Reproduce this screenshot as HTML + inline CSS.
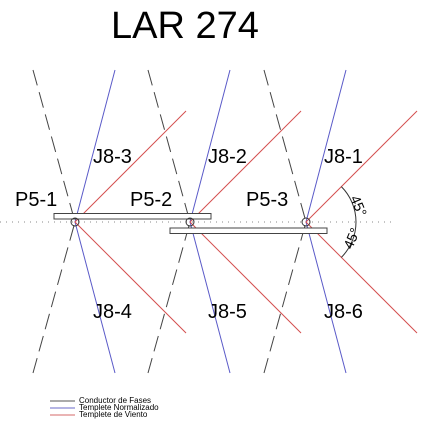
<!DOCTYPE html>
<html><head><meta charset="utf-8"><style>
html,body{margin:0;padding:0;background:#fff;}
svg{display:block;font-family:"Liberation Sans",Arial,sans-serif;}
</style></head><body>
<svg id="c" width="429" height="433" viewBox="0 0 429 433">
<text x="185" y="38" font-size="38" text-anchor="middle">LAR 274</text>
<line x1="0" y1="222" x2="395" y2="222" stroke="#888" stroke-width="1" stroke-dasharray="1,5"/>
<g id="marks"></g>
<g font-size="8">
<line x1="50" y1="401" x2="75" y2="401" stroke="#555"/>
<text x="79" y="403">Conductor de Fases</text>
<line x1="50" y1="408" x2="75" y2="408" stroke="#6a6ac8"/>
<text x="79" y="410">Templete Normalizado</text>
<line x1="50" y1="415" x2="75" y2="415" stroke="#d46a6a"/>
<text x="79" y="417">Templete de Viento</text>
</g>
</svg>
<script>
const poles = ["P5-1","P5-2","P5-3"];
const poleX = [75,190,306];
const upperLabels = ["J8-3","J8-2","J8-1"];
const lowerLabels = ["J8-4","J8-5","J8-6"];
const windAngle = [45,45,45];
const NS="http://www.w3.org/2000/svg";
const g=document.getElementById('marks');
const cy=222, yTop=70, yBot=373;
function mk(t,a,p){const e=document.createElementNS(NS,t);for(const k in a)e.setAttribute(k,a[k]);(p||g).appendChild(e);return e;}
poles.forEach((p,i)=>{
  const x=poleX[i];
  let l=mk('polyline',{points:`${x-42},${yTop} ${x},${cy} ${x-42},${yBot}`,fill:'none',stroke:'#444','stroke-width':1,'stroke-dasharray':'16,7'});
  
  
  l=mk('polyline',{points:`${x+40},${yTop} ${x},${cy} ${x+40},${yBot}`,fill:'none',stroke:'#5a5ac8','stroke-width':1});
  
  
  const a=windAngle[i]*Math.PI/180, len=157;
  const dx=Math.cos(a)*len, dy=Math.sin(a)*len;
  l=mk('polyline',{points:`${x+dx},${cy-dy} ${x},${cy} ${x+dx},${cy+dy}`,fill:'none',stroke:'#d45050','stroke-width':1});
  
  
  let t=mk('text',{x:x-60,y:206,'font-size':20});t.textContent=p;
  
  
  t=mk('text',{x:x+18,y:163,'font-size':20});t.textContent=upperLabels[i];
  
  
  t=mk('text',{x:x+18,y:318,'font-size':20});t.textContent=lowerLabels[i];
  
  
});
let r=mk('rect',{x:54,y:213.5,width:157,height:5.5,fill:'#fff',stroke:'#444','stroke-width':1});


r=mk('rect',{x:170,y:228,width:157,height:5.5,fill:'#fff',stroke:'#444','stroke-width':1});


poleX.forEach(x=>{
  const c=mk('circle',{cx:x,cy:cy,r:4,fill:'none',stroke:'#333','stroke-width':1});
  
  
});
const ax=poleX[2], R=50, aa=windAngle[2]*Math.PI/180;
const p1=[ax+R*Math.cos(aa),cy-R*Math.sin(aa)], p2=[ax+R*Math.cos(aa),cy+R*Math.sin(aa)];
let arc=mk('path',{d:`M${p1[0]},${p1[1]} A${R},${R} 0 0 1 ${p2[0]},${p2[1]}`,fill:'none',stroke:'#333','stroke-width':1});


let t1=mk('text',{x:0,y:0,'font-size':14,transform:`translate(350,198) rotate(67)`});t1.textContent='45°';


let t2=mk('text',{x:0,y:0,'font-size':14,transform:`translate(352,250) rotate(-67)`});t2.textContent='45°';


</script>
</body></html>
